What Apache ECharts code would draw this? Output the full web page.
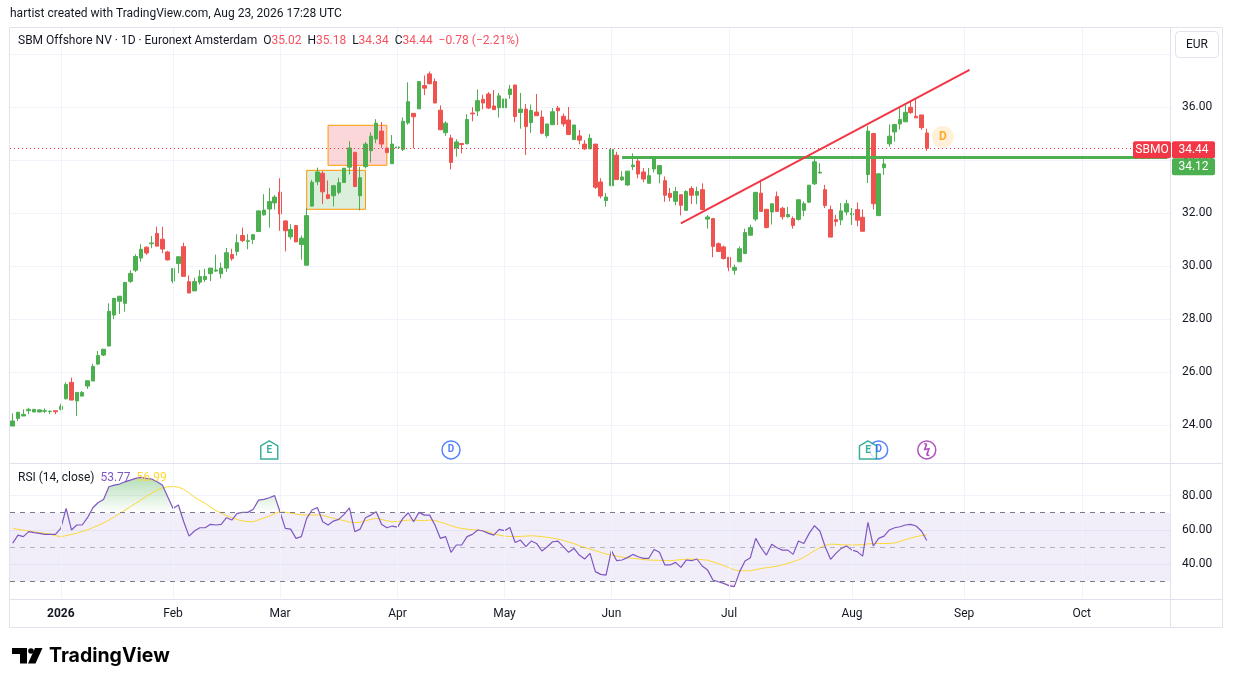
<!DOCTYPE html>
<html>
<head>
<meta charset="utf-8">
<script src="https://cdn.jsdelivr.net/npm/echarts@6/dist/echarts.min.js"></script>
<style>
  html, body { margin: 0; padding: 0; background: #fff; }
  #chart { width: 1233px; height: 687px; }
</style>
</head>
<body>
<div id="chart"></div>
<script>
// trading days shown on the time axis (last 45 are empty future space)
const dec2025 = [17,18,19,22,23,24,29,30,31];
const jan2026 = [2,5,6,7,8,9,12,13,14,15,16,19,20,21,22,23,26,27,28,29,30];
const feb2026 = [2,3,4,5,6,9,10,11,12,13,16,17,18,19,20,23,24,25,26,27];
const mar2026 = [2,3,4,5,6,9,10,11,12,13,16,17,18,19,20,23,24,25,26,27,30,31];
const apr2026 = [1,2,7,8,9,10,13,14,15,16,17,20,21,22,23,24,27,28,29,30];
const may2026 = [4,5,6,7,8,11,12,13,14,15,18,19,20,21,22,25,26,27,28,29];
const jun2026 = [1,2,3,4,5,8,9,10,11,12,15,16,17,18,19,22,23,24,25,26,29,30];
const jul2026 = [1,2,3,6,7,8,9,10,13,14,15,16,17,20,21,22,23,24,27,28,29,30,31];
const aug2026 = [3,4,5,6,7,10,11,12,13,14,17,18,19,20,21,24,25,26,27,28,31];
const sep2026 = [1,2,3,4,7,8,9,10,11,14,15,16,17,18,21,22,23,24,25,28,29,30];
const oct2026 = [1,2,5,6,7,8,9,12,13,14,15,16,19,20,21,22,23];
const monthNames = ['Jan','Feb','Mar','Apr','May','Jun','Jul','Aug','Sep','Oct','Nov','Dec'];

const opens = [
  23.96,24.25,24.34,24.54,24.49,24.49,24.52,24.51,24.54,24.59,
  24.99,25.61,24.91,25.09,25.47,25.66,26.30,26.64,26.98,28.15,
  28.67,28.59,29.42,29.84,30.30,30.71,30.84,31.23,31.01,30.53,
  29.43,30.09,30.73,29.41,29.06,29.39,29.49,29.71,29.81,29.71,
  29.92,30.43,30.55,31.15,30.93,31.00,31.30,31.93,32.15,32.38,
  32.79,31.70,31.10,31.53,30.81,30.03,32.26,33.18,33.50,32.69,
  32.65,32.78,33.15,33.73,34.29,32.65,33.75,34.35,34.79,35.09,
  34.45,33.86,34.46,34.40,35.40,35.76,35.93,36.81,37.25,36.96,
  35.88,35.03,34.83,34.45,34.62,34.61,35.77,35.85,36.29,36.49,
  36.04,35.97,35.97,36.47,36.83,35.79,35.92,35.41,35.81,35.62,
  34.92,35.33,35.96,35.65,35.51,34.77,34.91,34.60,34.42,34.60,
  33.17,32.47,33.03,34.18,33.25,33.06,33.75,33.96,33.55,33.12,
  33.66,33.47,33.22,32.74,32.44,32.69,32.10,32.92,32.67,32.88,
  31.77,31.79,30.84,30.72,30.33,29.84,30.16,30.47,31.16,31.77,
  32.75,32.14,32.04,32.62,32.18,31.86,31.79,31.76,32.10,32.41,
  33.10,33.51,32.88,32.13,31.75,31.74,32.04,31.93,32.13,31.84,
  33.45,35.00,31.90,33.71,34.61,35.06,35.36,35.44,35.99,35.65,
  35.70,35.02
];
const highs = [
  24.44,24.48,24.59,24.65,24.59,24.59,24.63,24.55,24.54,24.80,
  25.61,25.79,25.23,25.28,25.67,26.31,26.79,26.86,28.59,28.78,
  28.86,29.38,29.84,30.44,30.82,30.74,31.13,31.48,31.48,30.57,
  29.90,30.35,30.88,29.64,29.56,29.85,29.90,29.92,30.43,30.13,
  30.68,30.65,31.20,31.45,31.20,31.21,32.08,32.71,32.95,32.68,
  33.31,31.73,31.58,31.55,31.15,32.18,33.25,33.71,33.58,33.23,
  33.06,33.33,33.69,34.71,34.29,33.74,34.68,35.04,35.54,35.43,
  34.45,34.94,34.81,35.61,36.93,35.76,36.96,37.19,37.34,37.08,
  36.06,35.46,34.95,34.78,34.64,35.73,35.99,36.66,36.46,36.56,
  36.64,36.53,36.45,36.83,36.83,36.53,36.11,36.09,36.49,35.87,
  35.36,35.96,36.04,35.75,36.00,35.32,35.13,34.75,34.98,34.60,
  33.31,32.75,34.48,34.31,33.58,33.58,34.25,34.15,33.70,33.70,
  34.14,33.79,33.38,32.94,32.98,32.69,32.86,33.01,32.99,33.12,
  31.92,31.79,30.89,30.77,30.33,30.05,30.74,31.41,31.56,32.78,
  33.26,32.14,32.35,32.81,32.23,32.23,31.87,32.50,32.44,33.05,
  34.03,33.88,33.06,32.28,31.93,32.38,32.50,32.19,32.40,32.13,
  35.28,35.03,33.48,34.05,35.34,35.34,35.96,36.09,36.24,36.30,
  35.70,35.18
];
const lows = [
  23.96,24.15,24.34,24.41,24.49,24.48,24.45,24.41,24.41,24.55,
  24.96,24.94,24.34,25.09,25.36,25.66,26.26,26.60,26.98,28.00,
  28.19,28.28,29.36,29.77,30.16,30.42,30.67,30.75,30.48,30.21,
  29.35,29.73,29.61,28.98,29.06,29.30,29.40,29.43,29.78,29.53,
  29.78,30.20,30.39,30.90,30.63,30.83,31.30,31.90,31.45,32.13,
  31.33,30.55,31.00,30.90,30.24,30.03,32.24,33.05,32.34,32.52,
  32.25,32.70,33.15,33.45,33.00,32.10,33.68,33.90,34.63,34.46,
  34.28,33.86,34.36,34.34,35.33,34.44,35.93,36.45,36.85,36.15,
  35.14,34.91,33.64,34.13,34.25,34.61,35.46,35.66,35.91,35.92,
  35.90,35.60,35.97,36.31,35.43,35.18,34.19,35.03,35.67,34.97,
  34.84,35.33,35.32,35.26,34.96,34.77,34.59,34.38,34.42,32.91,
  32.55,32.24,33.03,33.26,33.21,33.02,33.62,33.31,33.16,33.12,
  33.53,33.12,32.42,32.44,32.29,31.91,32.10,32.34,32.33,32.13,
  31.41,30.33,30.53,30.24,29.80,29.67,30.16,30.47,31.16,31.69,
  32.06,31.42,31.57,32.04,31.75,31.82,31.41,31.71,31.88,32.38,
  33.06,33.49,32.19,31.09,31.50,31.54,31.91,31.55,31.50,31.31,
  33.13,32.13,31.90,33.44,34.50,34.69,35.15,35.44,35.74,35.59,
  35.14,34.34
];
const closes = [
  24.15,24.48,24.40,24.59,24.59,24.57,24.54,24.52,24.50,24.70,
  25.53,24.94,25.23,25.23,25.67,26.21,26.62,26.86,28.29,28.78,
  28.86,29.38,29.72,30.36,30.63,30.49,30.87,30.75,30.64,30.23,
  29.90,30.35,29.61,28.98,29.41,29.60,29.61,29.92,29.85,29.92,
  30.50,30.28,30.88,30.96,30.95,31.18,32.08,32.11,32.43,32.60,
  31.96,31.33,31.38,30.91,31.05,31.90,33.16,33.55,32.80,32.55,
  33.03,33.14,33.69,34.45,33.00,33.33,34.60,34.90,35.39,34.60,
  34.28,34.60,34.49,35.46,36.20,35.63,36.96,36.71,36.88,36.15,
  35.14,35.39,33.91,34.68,34.58,35.53,35.74,36.24,36.15,35.96,
  35.90,36.42,36.30,36.68,35.64,35.92,35.26,35.87,35.67,35.01,
  35.36,35.82,35.86,35.36,34.96,35.32,34.75,34.42,34.82,32.97,
  32.64,32.60,34.40,33.26,33.36,33.58,33.81,33.47,33.28,33.41,
  34.05,33.79,32.67,32.59,32.81,32.29,32.81,32.67,32.81,32.13,
  31.85,30.74,30.55,30.28,29.95,29.95,30.65,31.26,31.45,32.78,
  32.06,31.45,32.35,32.06,31.86,31.94,31.53,32.50,32.35,33.05,
  33.93,33.54,32.28,31.09,31.68,32.08,32.35,31.99,31.73,31.31,
  35.09,32.35,33.48,33.85,34.90,35.34,35.53,35.80,35.79,35.59,
  35.22,34.44
];

const rsiValues = [
  52.2,56.9,56.0,58.9,58.3,57.9,57.3,57.3,57.3,60.8,
  72.5,59.9,62.8,62.8,67.1,72.9,76.0,77.8,85.2,86.2,
  86.8,88.1,89.1,90.1,90.7,90.1,89.7,88.1,86.2,79.4,
  72.5,74.5,64.7,56.3,59.3,61.2,61.2,63.2,62.8,63.2,
  67.1,65.7,69.6,70.2,70.2,72.0,77.4,77.8,78.8,80.0,
  70.6,60.8,60.4,55.0,56.0,66.7,71.6,73.1,64.7,62.8,
  65.1,66.1,69.0,72.9,58.9,60.4,67.1,68.6,70.6,63.2,
  61.2,62.2,61.6,66.7,70.0,64.7,70.2,68.6,68.6,62.8,
  55.0,56.0,46.8,51.1,51.1,56.0,57.3,59.9,59.3,57.9,
  56.9,60.2,59.5,61.4,52.6,54.0,50.1,53.4,52.0,47.6,
  50.1,53.0,53.4,50.1,46.8,49.1,45.2,42.9,46.2,35.5,
  33.9,33.5,47.8,41.9,42.3,43.7,45.6,44.2,43.3,43.3,
  48.5,46.8,39.4,39.4,40.9,38.0,42.3,41.9,42.9,38.8,
  36.4,30.6,29.6,28.6,27.3,26.7,35.5,41.7,43.7,55.0,
  49.5,45.2,51.5,49.5,48.1,48.1,45.6,53.4,52.0,57.9,
  62.4,59.3,50.1,42.7,46.2,49.1,50.5,48.1,47.2,44.6,
  64.3,50.5,55.0,56.3,59.9,61.2,61.8,62.8,63.2,62.2,
  59.3,53.77
];
const rsiMaValues = [
  61.0,60.2,59.8,59.3,58.8,58.4,58.0,57.5,56.5,56.0,
  56.6,57.3,58.0,59.0,60.0,61.3,62.6,64.0,65.7,67.5,
  69.5,71.5,73.5,75.5,77.5,79.5,81.5,83.2,84.6,85.2,
  85.3,85.0,83.7,81.5,79.2,77.2,75.5,73.3,71.3,69.8,
  68.3,67.0,66.0,65.2,64.8,64.7,65.8,66.9,68.0,69.5,
  70.6,70.3,69.8,69.2,68.8,68.6,68.6,68.8,68.5,67.5,
  66.7,66.1,65.3,64.5,64.3,64.3,65.3,66.1,66.7,66.1,
  65.3,64.7,64.9,65.3,65.7,65.7,65.5,65.3,65.7,65.5,
  64.5,63.6,62.4,61.4,60.8,60.4,60.0,59.9,59.3,58.7,
  57.7,56.9,56.3,56.1,56.1,56.1,56.3,56.5,56.3,56.0,
  55.6,55.2,54.6,53.8,52.8,51.9,50.7,49.7,48.7,47.8,
  46.8,45.8,45.2,44.6,44.0,43.7,43.3,43.0,42.6,42.3,
  42.2,42.1,42.0,41.9,42.2,42.5,42.8,42.8,42.7,42.5,
  42.2,41.2,40.2,39.0,37.8,36.5,36.0,36.0,36.0,36.6,
  37.3,37.8,38.2,38.7,39.5,40.4,41.3,42.4,43.8,45.8,
  47.8,49.5,50.9,51.6,51.5,51.2,51.1,51.1,51.2,51.3,
  51.7,52.0,52.0,52.0,52.0,52.3,53.2,54.2,55.2,56.0,
  56.6,56.99
];

// drawings on the chart (category index, price)
const levelPrice = 34.12;
const levelStart = 114;
const trendStart = [125, 31.61];
const trendEnd = [179, 37.40];
const greenBox = [[55, 33.61], [66, 32.14]];
const pinkBox = [[59, 35.31], [70, 33.80]];
// event badges along the bottom of the price pane
const eventIdx = [82, 162, 48, 160, 171, 174];
const eventKind = ['D', 'D', 'E', 'E', 'S', 'U'];
const eventPrice = [23.06, 23.06, 23.06, 23.06, 23.06, 34.87];

const UP = '#4caf50', DOWN = '#ef5350', RED = '#f23645';
const GRID = '#f0f3fa', BORDER = '#e0e3eb', TXT = '#131722';
const FONT = 'Roboto, "Noto Sans", sans-serif';

const pad = n => (n < 10 ? '0' : '') + n;
const dates = [];
[[2025, 12, dec2025], [2026, 1, jan2026], [2026, 2, feb2026], [2026, 3, mar2026],
 [2026, 4, apr2026], [2026, 5, may2026], [2026, 6, jun2026], [2026, 7, jul2026],
 [2026, 8, aug2026], [2026, 9, sep2026], [2026, 10, oct2026]].forEach(([y, m, days]) => {
  days.forEach(d => dates.push(y + '-' + pad(m) + '-' + pad(d)));
});
const monthStart = dates.map((d, i) => i > 0 && d.slice(5, 7) !== dates[i - 1].slice(5, 7));
const monthLines = dates.filter((d, i) => monthStart[i])
  .map(d => ({ xAxis: d, lineStyle: { color: GRID, type: 'solid', width: 1 } }));

const candles = opens.map((o, i) => [o, closes[i], lows[i], highs[i]]);
const lastClose = closes[closes.length - 1];
const prevClose = closes[closes.length - 2];

const badge = {
  D: { symbol: 'circle', symbolSize: 18, itemStyle: { color: '#fff', borderColor: '#2962ff', borderWidth: 1.5 },
       label: { formatter: 'D', color: '#2962ff', fontWeight: 'bold', fontSize: 10 } },
  E: { symbol: 'path://M8,0 L16,5 L16,18 L0,18 L0,5 Z', symbolSize: [17, 18],
       itemStyle: { color: '#fff', borderColor: '#089981', borderWidth: 1.5 },
       label: { formatter: 'E', color: '#089981', fontWeight: 'bold', fontSize: 10, offset: [0, 1] } },
  S: { symbol: 'circle', symbolSize: 18, itemStyle: { color: '#fff', borderColor: '#9c27b0', borderWidth: 1.5 },
       label: { formatter: 'ϟ', color: '#9c27b0', fontWeight: 'bold', fontSize: 13 } },
  U: { symbol: 'circle', symbolSize: 22, itemStyle: { color: 'rgba(255,152,0,0.18)', borderWidth: 0 },
       label: { formatter: 'D', color: '#ff9800', fontWeight: 'bold', fontSize: 12 } }
};
const eventData = eventIdx.map((idx, i) => Object.assign(
  { value: [dates[idx], eventPrice[i]] }, badge[eventKind[i]]));

const chart = echarts.init(document.getElementById('chart'));

const option = {
  animation: false,
  backgroundColor: '#fff',
  textStyle: { fontFamily: FONT },
  grid: [
    { left: 10, top: 27.5, width: 1160, height: 450.5 },
    { left: 10, top: 461.5, width: 1160, height: 136.6 }
  ],
  xAxis: [
    { type: 'category', gridIndex: 0, data: dates, boundaryGap: true,
      axisLine: { show: false }, axisTick: { show: false }, axisLabel: { show: false }, splitLine: { show: false } },
    { type: 'category', gridIndex: 1, data: dates, boundaryGap: true,
      axisLine: { show: false }, axisTick: { show: false }, splitLine: { show: false },
      axisLabel: {
        interval: (i) => monthStart[i],
        margin: 10, fontSize: 12, color: TXT, fontFamily: FONT,
        formatter: (v) => {
          const m = +v.slice(5, 7);
          return m === 1 ? '{y|' + v.slice(0, 4) + '}' : monthNames[m - 1];
        },
        rich: { y: { fontWeight: 'bold', fontSize: 12, color: TXT, fontFamily: FONT } }
      } }
  ],
  yAxis: [
    { type: 'value', gridIndex: 0, position: 'right', min: 22, max: 39, interval: 2,
      axisLine: { show: false }, axisTick: { show: false },
      axisLabel: { showMinLabel: false, showMaxLabel: false, margin: 12, fontSize: 12, color: TXT,
        padding: [4, 0, 0, 0], formatter: v => (v > 37 ? '' : v.toFixed(2)) },
      splitLine: { showMinLine: false, showMaxLine: false, lineStyle: { color: GRID } } },
    { type: 'value', gridIndex: 1, position: 'right', min: 20, max: 100, interval: 20,
      axisLine: { show: false }, axisTick: { show: false },
      axisLabel: { showMinLabel: false, showMaxLabel: false, margin: 12, fontSize: 12, color: TXT,
        padding: [3, 0, 0, 0], formatter: v => v.toFixed(2) },
      splitLine: { showMinLine: false, showMaxLine: false, lineStyle: { color: GRID } } }
  ],
  series: [
    { // month grid lines behind the candles
      type: 'line', xAxisIndex: 0, yAxisIndex: 0, data: [], z: 1, silent: true,
      markLine: { silent: true, symbol: ['none', 'none'], label: { show: false }, data: monthLines }
    },
    {
      name: 'SBMO', type: 'candlestick', xAxisIndex: 0, yAxisIndex: 0, data: candles, barWidth: 4, z: 3,
      itemStyle: { color: UP, color0: DOWN, borderColor: UP, borderColor0: DOWN, borderWidth: 1 },
      markLine: {
        silent: true, symbol: ['none', 'none'], label: { show: false },
        data: [
          { yAxis: lastClose, lineStyle: { color: RED, type: [1, 3], width: 1 } },
          [{ coord: [dates[levelStart], levelPrice], lineStyle: { color: UP, width: 3, type: 'solid' } },
           { coord: [dates[dates.length - 1], levelPrice] }],
          [{ coord: [dates[trendStart[0]], trendStart[1]], lineStyle: { color: RED, width: 2, type: 'solid' } },
           { coord: [dates[trendEnd[0]], trendEnd[1]] }]
        ]
      },
      markArea: {
        silent: true,
        data: [
          [{ coord: [dates[greenBox[0][0]], greenBox[0][1]],
             itemStyle: { color: 'rgba(76,175,80,0.2)', borderColor: '#ff9800', borderWidth: 1 } },
           { coord: [dates[greenBox[1][0]], greenBox[1][1]] }],
          [{ coord: [dates[pinkBox[0][0]], pinkBox[0][1]],
             itemStyle: { color: 'rgba(242,54,69,0.2)', borderColor: '#ff9800', borderWidth: 1 } },
           { coord: [dates[pinkBox[1][0]], pinkBox[1][1]] }]
        ]
      }
    },
    {
      type: 'scatter', xAxisIndex: 0, yAxisIndex: 0, z: 5, silent: true, data: eventData,
      label: { show: true, position: 'inside', fontFamily: FONT }
    },
    { // RSI band + month lines
      type: 'line', xAxisIndex: 1, yAxisIndex: 1, data: [], z: 1, silent: true,
      markArea: { silent: true, itemStyle: { color: 'rgba(126,87,194,0.1)' },
        data: [[{ yAxis: 30 }, { yAxis: 70 }]] },
      markLine: { silent: true, symbol: ['none', 'none'], label: { show: false }, data: monthLines }
    },
    { // overbought / oversold fill
      type: 'line', xAxisIndex: 1, yAxisIndex: 1, data: rsiValues, z: 2, silent: true,
      symbol: 'none', lineStyle: { width: 0, opacity: 0 },
      areaStyle: {
        origin: 70,
        color: new echarts.graphic.LinearGradient(0, 461.5, 0, 598.1, [
          { offset: 0, color: 'rgba(76,175,80,0.85)' },
          { offset: 0.375, color: 'rgba(76,175,80,0)' },
          { offset: 0.875, color: 'rgba(242,54,69,0)' },
          { offset: 1, color: 'rgba(242,54,69,0.8)' }
        ], true)
      }
    },
    {
      name: 'RSI MA', type: 'line', xAxisIndex: 1, yAxisIndex: 1, data: rsiMaValues, z: 3,
      symbol: 'none', lineStyle: { color: '#fdd835', width: 1 }
    },
    {
      name: 'RSI', type: 'line', xAxisIndex: 1, yAxisIndex: 1, data: rsiValues, z: 4,
      symbol: 'none', lineStyle: { color: '#7e57c2', width: 1.2 },
      markLine: {
        silent: true, symbol: ['none', 'none'], label: { show: false },
        data: [
          { yAxis: 70, lineStyle: { color: '#787b86', type: [5, 5], width: 1 } },
          { yAxis: 50, lineStyle: { color: 'rgba(120,123,134,0.5)', type: [5, 5], width: 1 } },
          { yAxis: 30, lineStyle: { color: '#787b86', type: [5, 5], width: 1 } }
        ]
      }
    }
  ]
};
chart.setOption(option);

// overlay text, frame and price tags
const fmt = v => v.toFixed(2);
const minus = v => (v < 0 ? '\u2212' : '') + Math.abs(v).toFixed(2);
const chg = lastClose - prevClose;
const pct = chg / prevClose * 100;
const yLast = chart.convertToPixel({ yAxisIndex: 0 }, lastClose);
const yLevel = chart.convertToPixel({ yAxisIndex: 0 }, levelPrice);
const lastTop = yLast - 7;
const levelTop = Math.max(yLevel - 7, lastTop + 17);

function txt(x, y, text, extra) {
  return { type: 'text', x, y, silent: true, z: 100,
    style: Object.assign({ text, fill: TXT, fontSize: 12, fontFamily: FONT,
      verticalAlign: 'middle', textVerticalAlign: 'middle' }, extra || {}) };
}
function tag(x, top, w, text, fill) {
  return [
    { type: 'rect', silent: true, z: 100, shape: { x, y: top, width: w, height: 17, r: 2 }, style: { fill } },
    txt(x + w / 2, top + 9, text, { fill: '#fff', align: 'center', textAlign: 'center' })
  ];
}
const valStyle = { fill: '#f7525f', color: '#f7525f', fontSize: 12, fontFamily: FONT };
const keyStyle = { fill: TXT, color: TXT, fontSize: 12, fontFamily: FONT };

chart.setOption({
  graphic: [
    { type: 'rect', silent: true, z: 100, shape: { x: 9.5, y: 27.5, width: 1213, height: 600 },
      style: { fill: 'none', stroke: BORDER, lineWidth: 1 } },
    { type: 'line', silent: true, z: 100, shape: { x1: 9.5, y1: 463.5, x2: 1222.5, y2: 463.5 },
      style: { stroke: BORDER, lineWidth: 1 } },
    { type: 'line', silent: true, z: 100, shape: { x1: 9.5, y1: 599.5, x2: 1222.5, y2: 599.5 },
      style: { stroke: BORDER, lineWidth: 1 } },
    { type: 'line', silent: true, z: 100, shape: { x1: 1170.5, y1: 27.5, x2: 1170.5, y2: 627.5 },
      style: { stroke: BORDER, lineWidth: 1 } },
    txt(10, 14, 'hartist created with TradingView.com, Aug 23, 2026 17:28 UTC'),
    {
      type: 'text', x: 18, y: 41, silent: true, z: 100,
      style: {
        text: '{k|SBM Offshore NV · 1D · Euronext Amsterdam}  {k|O}{v|' + fmt(opens[171]) + '}  {k|H}{v|' +
          fmt(highs[171]) + '}  {k|L}{v|' + fmt(lows[171]) + '}  {k|C}{v|' + fmt(lastClose) + '}  {v|' +
          minus(chg) + ' (' + minus(pct) + '%)}',
        verticalAlign: 'middle', textVerticalAlign: 'middle', fontSize: 12, fontFamily: FONT,
        rich: { k: keyStyle, v: valStyle }
      }
    },
    {
      type: 'text', x: 18, y: 478, silent: true, z: 100,
      style: {
        text: '{k|RSI (14, close)}  {p|' + fmt(rsiValues[171]) + '}  {m|' + fmt(rsiMaValues[171]) + '}',
        verticalAlign: 'middle', textVerticalAlign: 'middle', fontSize: 12, fontFamily: FONT,
        rich: { k: keyStyle,
          p: { fill: '#7e57c2', color: '#7e57c2', fontSize: 12, fontFamily: FONT },
          m: { fill: '#fdd835', color: '#fdd835', fontSize: 12, fontFamily: FONT } }
      }
    },
    { type: 'rect', silent: true, z: 100, shape: { x: 1175.5, y: 31.5, width: 43, height: 26, r: 4 },
      style: { fill: '#fff', stroke: BORDER, lineWidth: 1 } },
    txt(1197, 44.5, 'EUR', { align: 'center', textAlign: 'center' }),
    ...tag(1133, lastTop, 38, 'SBMO', RED),
    ...tag(1172, lastTop, 43, fmt(lastClose), RED),
    ...tag(1172, levelTop, 43, fmt(levelPrice), UP),
    // TradingView logo
    { type: 'rect', silent: true, z: 100, shape: { x: 12, y: 648, width: 15, height: 6 }, style: { fill: '#000' } },
    { type: 'rect', silent: true, z: 100, shape: { x: 20, y: 648, width: 7, height: 15.5 }, style: { fill: '#000' } },
    { type: 'circle', silent: true, z: 100, shape: { cx: 31, cy: 651, r: 2.8 }, style: { fill: '#000' } },
    { type: 'polygon', silent: true, z: 100, shape: { points: [[35, 648], [42.5, 648], [35.5, 663.5], [28, 663.5]] },
      style: { fill: '#000' } },
    txt(49, 656.5, 'TradingView', { fill: '#000', fontSize: 19.5, fontWeight: 'bold', fontFamily: 'Inter, Roboto, sans-serif' })
  ]
});
</script>
</body>
</html>
